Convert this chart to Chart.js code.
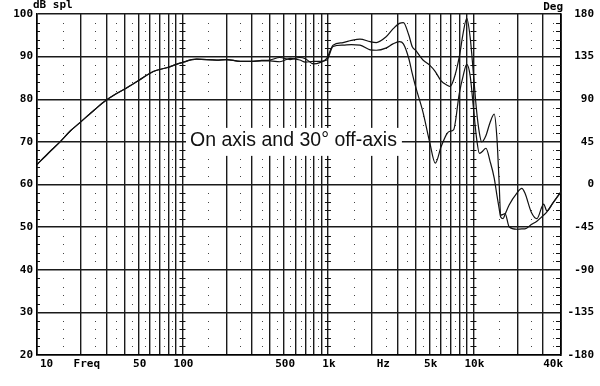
<!DOCTYPE html>
<html>
<head>
<meta charset="utf-8">
<script src="https://cdn.jsdelivr.net/npm/chart.js@4.4.1/dist/chart.umd.min.js"></script>
<style>
  html, body { margin: 0; padding: 0; background: #fff; }
  #wrap { width: 600px; height: 386px; position: relative; }
</style>
</head>
<body>
<div id="wrap"><canvas id="c" width="600" height="386"></canvas></div>
<script>
// ---- data ----
const freqHz = [10, 12, 14.4, 17, 20, 25, 30, 35, 41, 50, 63, 78, 99, 125, 172, 200, 250, 300, 350, 400,
  467, 550, 640, 700, 794, 880, 982, 1085, 1270, 1450, 1660, 1950, 2150, 2500, 2800, 3100, 3300, 3600,
  3800, 4000, 4500, 5000, 5470, 6000, 6600, 6900, 7300, 8000, 8500, 9000, 9500, 10000, 10500, 11000,
  11400, 12200, 13000, 13900, 14500, 15000, 15400, 16000, 16500, 17600, 19900, 21500, 22600, 25000,
  27300, 30400, 32000, 35000, 40000];
const onAxisDb = [64.7, 67.4, 70.0, 72.6, 74.7, 77.6, 79.8, 81.3, 82.6, 84.4, 86.5, 87.4, 88.6, 89.4, 89.2, 89.3, 88.9, 88.9, 89.1, 89.2,
  89.8, 89.3, 89.8, 89.5, 88.3, 88.6, 89.6, 92.7, 93.3, 93.8, 94.1, 93.5, 93.3, 94.6, 96.5, 97.8, 98.0, 95.0,
  92.3, 91.5, 89.2, 88.0, 86.5, 84.3, 83.3, 83.0, 84.5, 90.0, 95.5, 99.0, 94.5, 86.0, 77.5, 72.0,
  70.0, 71.5, 74.5, 76.5, 71.0, 61.0, 52.8, 53.0, 53.2, 50.1, 49.5, 49.6, 49.6, 50.6,
  51.4, 52.8, 53.6, 55.5, 58.3];
const offAxis30Db = [64.7, 67.4, 70.0, 72.6, 74.7, 77.6, 79.8, 81.3, 82.6, 84.4, 86.5, 87.4, 88.6, 89.4, 89.2, 89.3, 88.9, 88.9, 89.0, 89.0,
  88.8, 89.6, 89.2, 88.7, 88.9, 88.9, 89.2, 92.4, 92.7, 92.8, 92.7, 91.6, 91.5, 92.0, 93.0, 93.5, 93.0, 89.5,
  86.0, 83.0, 77.0, 70.0, 65.0, 68.9, 72.0, 72.5, 72.8, 81.4, 85.5, 88.2, 85.5, 78.0, 71.0, 67.3,
  67.6, 68.5, 65.5, 61.5, 57.5, 54.5, 52.4, 52.0, 53.0, 55.2, 58.0, 59.1, 58.0, 53.5,
  52.0, 55.4, 53.8, 55.6, 58.3];

const dbTicks = [20, 30, 40, 50, 60, 70, 80, 90, 100];
const degTicks = [-180, -135, -90, -45, 0, 45, 90, 135, 180];
const xLabelValues = [10, 50, 100, 500, 1000, 5000, 10000, 40000];
const xLabelTexts = ['10', '50', '100', '500', '1k', '5k', '10k', '40k'];
const annotation = 'On axis and 30\u00b0 off-axis';

// grid positions (solid lines at 1..9 x decade, dotted columns at the half-steps)
const gridFreqs = [];
const dotFreqs = [];
[10, 100, 1000, 10000].forEach(d => {
  for (let m = 1; m <= 9; m++) {
    if (d * m <= 40000) gridFreqs.push(d * m);
    if (d * (m + 0.5) < 40000 && m < 9) dotFreqs.push(d * (m + 0.5));
  }
});
gridFreqs.push(40000);

const MONO = "'DejaVu Sans Mono', monospace";

const decorPlugin = {
  id: 'decor',
  beforeDatasetsDraw(chart) {
    const ctx = chart.ctx;
    const xs = chart.scales.x, ys = chart.scales.y;
    const area = chart.chartArea;
    ctx.save();
    // dotted columns
    ctx.fillStyle = '#444';
    dotFreqs.forEach(f => {
      const px = Math.round(xs.getPixelForValue(f));
      for (let db = 22; db < 100; db += 2) {
        if (db % 10 === 0) continue;
        const py = Math.round(ys.getPixelForValue(db));
        ctx.fillRect(px, py, 1, 1);
      }
    });
    // tick marks on decade lines and borders
    ctx.strokeStyle = '#111';
    ctx.lineWidth = 1.2;
    ctx.beginPath();
    for (let db = 22; db < 100; db += 2) {
      if (db % 10 === 0) continue;
      const py = Math.round(ys.getPixelForValue(db)) + 0.5;
      [100, 1000, 10000].forEach(f => {
        const px = xs.getPixelForValue(f);
        ctx.moveTo(px - 3, py); ctx.lineTo(px + 3, py);
      });
      ctx.moveTo(area.left, py); ctx.lineTo(area.left + 3, py);
      ctx.moveTo(area.right - 5, py); ctx.lineTo(area.right, py);
    }
    ctx.stroke();
    // annotation with white box
    ctx.font = "19.5px 'Liberation Sans', Arial, sans-serif";
    const tw = ctx.measureText(annotation).width;
    const tx = 190, ty = ys.getPixelForValue(70);
    ctx.fillStyle = '#fff';
    ctx.fillRect(tx - 4, ty - 14, tw + 9, 28);
    ctx.fillStyle = '#111';
    ctx.textBaseline = 'middle';
    ctx.textAlign = 'left';
    ctx.fillText(annotation, tx, ty - 1);
    ctx.restore();
  },
  afterDraw(chart) {
    const ctx = chart.ctx;
    const xs = chart.scales.x;
    const area = chart.chartArea;
    ctx.save();
    ctx.fillStyle = '#000';
    ctx.font = 'bold 11px ' + MONO;
    ctx.textBaseline = 'middle';
    const yLab = area.bottom + 9;
    xLabelValues.forEach((v, i) => {
      const px = xs.getPixelForValue(v);
      if (i === 0) { ctx.textAlign = 'left'; ctx.fillText(xLabelTexts[i], px + 3, yLab); }
      else if (i === xLabelValues.length - 1) { ctx.textAlign = 'right'; ctx.fillText(xLabelTexts[i], px + 2, yLab); }
      else { ctx.textAlign = 'center'; ctx.fillText(xLabelTexts[i], px + 1, yLab); }
    });
    ctx.textAlign = 'center';
    ctx.fillText('Freq', xs.getPixelForValue(22), yLab);
    ctx.fillText('Hz', xs.getPixelForValue(2400), yLab);
    ctx.textAlign = 'left';
    ctx.fillText('dB spl', area.left - 4, 5);
    ctx.textAlign = 'right';
    ctx.fillText('Deg', area.right + 2, 7);
    ctx.restore();
  }
};

const lineStyle = {
  borderColor: '#111',
  borderWidth: 1.2,
  pointRadius: 0,
  fill: false,
  cubicInterpolationMode: 'monotone',
  yAxisID: 'y'
};

new Chart(document.getElementById('c'), {
  type: 'line',
  data: {
    datasets: [
      Object.assign({ label: 'On axis', data: freqHz.map((f, i) => ({ x: f, y: onAxisDb[i] })) }, lineStyle),
      Object.assign({ label: '30\u00b0 off-axis', data: freqHz.map((f, i) => ({ x: f, y: offAxis30Db[i] })) }, lineStyle)
    ]
  },
  options: {
    responsive: false,
    animation: false,
    layout: { padding: { top: 14, right: 6, left: 0, bottom: 0 } },
    plugins: { legend: { display: false }, tooltip: { enabled: false } },
    scales: {
      x: {
        type: 'logarithmic',
        min: 10, max: 40000,
        afterBuildTicks: s => { s.ticks = gridFreqs.map(v => ({ value: v })); },
        afterFit: s => { s.height = 31; },
        ticks: { display: false },
        grid: { color: '#1a1a1a', lineWidth: 1.4, drawTicks: false },
        border: { display: true, color: '#000', width: 1.6 }
      },
      y: {
        position: 'left',
        min: 20, max: 100,
        afterBuildTicks: s => { s.ticks = dbTicks.map(v => ({ value: v })); },
        afterFit: s => { s.width = 37; },
        ticks: { color: '#000', padding: 4, font: { family: MONO, size: 11, weight: 'bold' } },
        grid: { color: '#1a1a1a', lineWidth: 1.4, drawTicks: false },
        border: { display: true, color: '#000', width: 1.6 }
      },
      y2: {
        position: 'right',
        min: -180, max: 180,
        afterBuildTicks: s => { s.ticks = degTicks.map(v => ({ value: v })); },
        afterFit: s => { s.width = 33; },
        ticks: { color: '#000', padding: 2, crossAlign: 'far', font: { family: MONO, size: 11, weight: 'bold' } },
        grid: { display: false, drawTicks: false },
        border: { display: true, color: '#000', width: 1.6 }
      }
    }
  },
  plugins: [decorPlugin]
});
</script>
</body>
</html>
